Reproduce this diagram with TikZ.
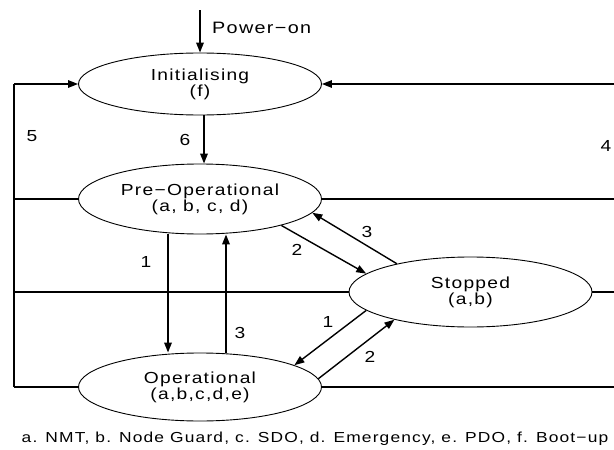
\documentclass[tikz,border=0pt]{standalone}
\usepackage{fontspec}
\setmainfont{Liberation Sans}
\newfontfamily\gulim[FakeStretch=1.2, LetterSpace=8]{Liberation Sans}
\usetikzlibrary{shapes.geometric,arrows.meta,positioning,calc}

\begin{document}
\begin{tikzpicture}[x=1pt, y=-1pt,
    state/.style={ellipse, draw, line width=0.9pt, minimum width=243pt, minimum height=70pt,
                  inner sep=0pt, align=center, font=\gulim\fontsize{16}{16}\selectfont},
    tr/.style={-{Triangle[length=10pt,width=7.5pt]}, line width=1.8pt},
    dtr/.style={-{Triangle[length=10pt,width=7.5pt]}, line width=1.4pt},
    ln/.style={line width=1.4pt},
    bus/.style={line width=2.3pt},
    num/.style={inner sep=0pt, font=\gulim\fontsize{16}{16}\selectfont}]
\useasboundingbox (0,0) rectangle (614,450);
% states
\node[state, minimum height=62pt] (init) at (200,84) {Initialising\\(f)};
\node[state] (preop) at (200,199) {Pre−Operational\\(a, b, c, d)};
\node[state] (stop) at (470.5,292) {Stopped\\(a,b)};
\node[state, minimum height=68pt] (oper) at (200,387) {Operational\\(a,b,c,d,e)};
% the two loop lines at the sides
\coordinate (lbus) at (14,0);
\coordinate (rbus) at (614,0);
\coordinate (pwr) at (200,10);
% Power-on into Initialising
\draw[tr] (pwr) -- (init.north);
\node[num, anchor=west, font=\gulim\fontsize{16.5}{16}\selectfont] (pwrlbl) at (212,28) {Power−on};
% 6: Initialising -> Pre-Operational
\draw[tr] (204,0 |- init.south) -- (204,0 |- preop.north);
\node[num] (l6) at (185,140) {6};
% 5: left loop back to Initialising
\coordinate (ltop) at (lbus |- init.west);
\coordinate (lbot) at (lbus |- oper.west);
\draw[bus] (lbot) -- (ltop);
\draw[tr, line width=1.4pt] (ltop) -- (init.west);
\draw[ln] (preop.west) -- (preop.west -| lbus);
\draw[ln] (stop.west) -- (stop.west -| lbus);
\draw[ln] (oper.west) -- (lbot);
\node[num] (l5) at (32,136) {5};
% 4: right loop back to Initialising
\draw[tr, line width=1.4pt] (init.east -| rbus) -- (init.east);
\draw[ln] (preop.east) -- (preop.east -| rbus);
\draw[ln] (stop.east) -- (stop.east -| rbus);
\draw[ln] (oper.east) -- (oper.east -| rbus);
\node[num] (l4) at (606,146) {4};
% Pre-Operational <-> Operational
\draw[tr] (168,0 |- preop.south) -- (168,0 |- oper.north);
\node[num] (l1a) at (146,262) {1};
\draw[tr] (226,0 |- oper.north) -- (226,0 |- preop.south);
\node[num] (l3a) at (240,333) {3};
% Pre-Operational <-> Stopped
\draw[dtr] (preop.342) -- (stop.170);
\node[num] (l2a) at (297,250) {2};
\draw[dtr] (stop.159) -- (preop.353);
\node[num] (l3b) at (367,232) {3};
% Stopped <-> Operational
\draw[dtr] (stop.190) -- (oper.13);
\node[num] (l1b) at (328,322) {1};
\draw[dtr] (oper.4) -- (stop.200);
\node[num] (l2b) at (370,357) {2};
% legend
\node[num, font=\gulim\fontsize{14.5}{15}\selectfont] (legend) at (315,439)
    {a. NMT, b. Node Guard, c. SDO, d. Emergency, e. PDO, f. Boot−up};
\end{tikzpicture}
\end{document}
